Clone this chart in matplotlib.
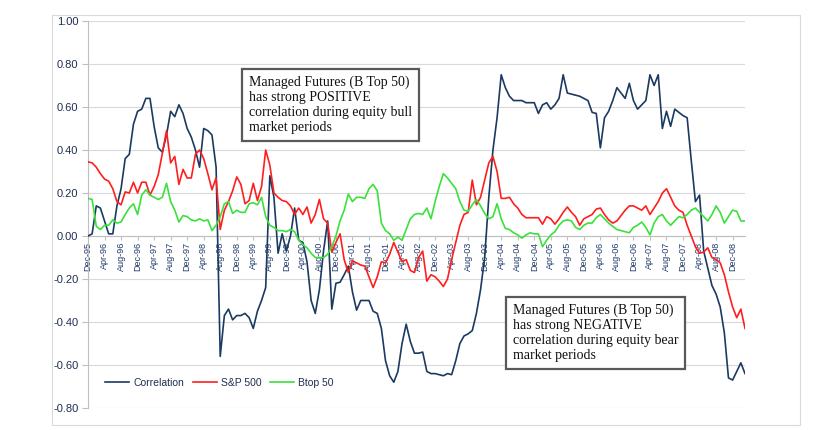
import matplotlib
matplotlib.use("Agg")
import matplotlib.pyplot as plt
from matplotlib.patches import Rectangle

# ---------------- data (monthly, Dec-95 .. Mar-09) ----------------
correlation = [
    0.00, 0.01, 0.14, 0.13, 0.07, 0.01, 0.01, 0.14, 0.22, 0.36,
    0.38, 0.52, 0.58, 0.59, 0.64, 0.64, 0.51, 0.41, 0.39, 0.47,
    0.58, 0.555, 0.61, 0.57, 0.50, 0.46, 0.40, 0.32, 0.50, 0.49,
    0.47, 0.32, -0.56, -0.37, -0.34, -0.39, -0.37, -0.37, -0.36, -0.38,
    -0.43, -0.35, -0.30, -0.24, 0.28, 0.18, -0.08, 0.01, -0.07, 0.00,
    0.13, -0.02, -0.03, -0.12, -0.30, -0.36, -0.25, -0.07, 0.07, -0.34,
    -0.22, -0.215, -0.18, -0.14, -0.26, -0.345, -0.30, -0.30, -0.30, -0.35,
    -0.36, -0.43, -0.58, -0.65, -0.68, -0.63, -0.50, -0.41, -0.49, -0.545,
    -0.545, -0.54, -0.63, -0.64, -0.64, -0.645, -0.65, -0.64, -0.645, -0.58,
    -0.50, -0.465, -0.455, -0.44, -0.36, -0.25, -0.10, 0.18, 0.40, 0.55,
    0.75, 0.69, 0.65, 0.63, 0.63, 0.63, 0.62, 0.62, 0.62, 0.57,
    0.61, 0.62, 0.59, 0.61, 0.64, 0.75, 0.665, 0.66, 0.655, 0.65,
    0.64, 0.63, 0.575, 0.57, 0.41, 0.55, 0.58, 0.63, 0.69, 0.665,
    0.64, 0.71, 0.63, 0.59, 0.61, 0.63, 0.75, 0.70, 0.75, 0.50,
    0.58, 0.51, 0.59, 0.575, 0.56, 0.55, 0.35, 0.16, 0.19, -0.07,
    -0.15, -0.23, -0.27, -0.33, -0.45, -0.66, -0.67, -0.63, -0.59, -0.64,
]

sp500 = [
    0.345, 0.34, 0.32, 0.29, 0.265, 0.255, 0.22, 0.16, 0.145, 0.205,
    0.20, 0.25, 0.20, 0.25, 0.25, 0.19, 0.23, 0.285, 0.385, 0.49,
    0.34, 0.37, 0.24, 0.31, 0.27, 0.27, 0.38, 0.40, 0.36, 0.29,
    0.215, 0.27, 0.03, 0.12, 0.16, 0.21, 0.275, 0.24, 0.15, 0.165,
    0.245, 0.165, 0.23, 0.40, 0.33, 0.20, 0.18, 0.165, 0.16, 0.14,
    0.10, 0.13, 0.10, 0.135, 0.06, 0.10, 0.17, 0.08, 0.06, -0.075,
    -0.03, 0.01, -0.11, -0.17, -0.115, -0.125, -0.135, -0.14, -0.19, -0.24,
    -0.19, -0.12, -0.125, -0.085, -0.03, -0.075, -0.12, -0.11, -0.16, -0.17,
    -0.10, -0.07, -0.21, -0.18, -0.19, -0.21, -0.235, -0.20, -0.11, -0.03,
    0.05, 0.10, 0.11, 0.26, 0.145, 0.18, 0.26, 0.34, 0.37, 0.30,
    0.175, 0.175, 0.18, 0.15, 0.13, 0.10, 0.085, 0.085, 0.085, 0.085,
    0.055, 0.09, 0.08, 0.055, 0.08, 0.11, 0.135, 0.11, 0.09, 0.05,
    0.08, 0.09, 0.10, 0.125, 0.13, 0.10, 0.075, 0.06, 0.07, 0.095,
    0.12, 0.14, 0.14, 0.13, 0.12, 0.14, 0.10, 0.13, 0.16, 0.20,
    0.22, 0.18, 0.14, 0.12, 0.11, 0.05, 0.00, -0.05, -0.08, -0.075,
    -0.055, -0.10, -0.11, -0.125, -0.18, -0.26, -0.33, -0.38, -0.34, -0.43,
]

btop50 = [
    0.175, 0.17, 0.045, 0.03, 0.05, 0.05, 0.075, 0.06, 0.065, 0.10,
    0.13, 0.15, 0.10, 0.19, 0.215, 0.19, 0.18, 0.17, 0.18, 0.245,
    0.16, 0.12, 0.065, 0.095, 0.09, 0.075, 0.07, 0.08, 0.07, 0.075,
    0.025, 0.05, 0.09, 0.15, 0.16, 0.105, 0.12, 0.11, 0.11, 0.15,
    0.155, 0.145, 0.18, 0.09, 0.05, 0.04, 0.025, 0.025, 0.02, 0.03,
    0.02, -0.02, -0.04, -0.055, -0.08, -0.10, -0.10, -0.10, -0.085, -0.05,
    0.00, 0.07, 0.12, 0.195, 0.16, 0.18, 0.18, 0.175, 0.22, 0.24,
    0.21, 0.06, 0.025, 0.01, -0.02, -0.005, -0.02, 0.03, 0.08, 0.10,
    0.105, 0.10, 0.13, 0.08, 0.16, 0.23, 0.29, 0.27, 0.245, 0.22,
    0.16, 0.12, 0.115, 0.145, 0.17, 0.14, 0.105, 0.08, 0.09, 0.15,
    0.08, 0.035, 0.03, 0.015, 0.005, -0.01, 0.005, 0.015, 0.01, 0.01,
    -0.05, -0.02, 0.005, 0.02, 0.05, 0.07, 0.075, 0.07, 0.04, 0.03,
    0.05, 0.06, 0.06, 0.085, 0.10, 0.08, 0.06, 0.045, 0.03, 0.025,
    0.02, 0.015, 0.04, 0.05, 0.065, 0.04, 0.005, 0.06, 0.09, 0.10,
    0.07, 0.05, 0.07, 0.09, 0.085, 0.10, 0.12, 0.13, 0.11, 0.09,
    0.07, 0.10, 0.14, 0.11, 0.06, 0.09, 0.12, 0.115, 0.07, 0.07,
]

tick_labels = [
    "Dec-95", "Apr-96", "Aug-96", "Dec-96", "Apr-97", "Aug-97", "Dec-97",
    "Apr-98", "Aug-98", "Dec-98", "Apr-99", "Aug-99", "Dec-99", "Apr-00",
    "Aug-00", "Dec-00", "Apr-01", "Aug-01", "Dec-01", "Apr-02", "Aug-02",
    "Dec-02", "Apr-03", "Aug-03", "Dec-03", "Apr-04", "Aug-04", "Dec-04",
    "Apr-05", "Aug-05", "Dec-05", "Apr-06", "Aug-06", "Dec-06", "Apr-07",
    "Aug-07", "Dec-07", "Apr-08", "Aug-08", "Dec-08",
]
y_ticks = [-0.8, -0.6, -0.4, -0.2, 0.0, 0.2, 0.4, 0.6, 0.8, 1.0]

note_pos = ("Managed Futures (B Top 50)\nhas strong POSITIVE\n"
            "correlation during equity bull\nmarket periods")
note_neg = ("Managed Futures (B Top 50)\nhas strong NEGATIVE\n"
            "correlation during equity bear\nmarket periods")

# ---------------- figure ----------------
W, H = 816, 430
fig = plt.figure(figsize=(W / 100, H / 100), dpi=100)
fig.patch.set_facecolor("white")

# outer chart-area border
fig.patches.append(Rectangle((52 / W, 1 - 425 / H), (800 - 52) / W, (425 - 15) / H,
                             transform=fig.transFigure, fill=False,
                             ec="#D9D9D9", lw=0.8, zorder=0))

ax = fig.add_axes([88 / W, 1 - 408 / H, (745 - 88) / W, (408 - 21) / H])
ax.set_facecolor("white")

# position the category axis on the zero line first (this resets ticks)
ax.spines["bottom"].set_position(("data", 0))
ax.spines["bottom"].set_color("#BFBFBF")
ax.spines["left"].set_color("#BFBFBF")
ax.spines["top"].set_visible(False)
ax.spines["right"].set_visible(False)

x = list(range(len(correlation)))
c_corr, c_sp, c_bt = "#1B3A62", "#FF1E1E", "#3CE03C"
ax.plot(x, correlation, color=c_corr, lw=1.2, label="Correlation", zorder=3)
ax.plot(x, sp500, color=c_sp, lw=1.2, label="S&P 500", zorder=3)
ax.plot(x, btop50, color=c_bt, lw=1.2, label="Btop 50", zorder=3)

ax.set_xlim(0, len(correlation) - 1)
ax.set_ylim(-0.8, 1.0)
ax.set_yticks(y_ticks)
ax.set_yticklabels([f"{v:.2f}" for v in y_ticks], fontsize=8,
                   family="Liberation Sans", color="#1F2F4F")
ax.yaxis.grid(True, color="#D9D9D9", lw=0.8)
ax.set_axisbelow(True)

ax.set_xticks(list(range(0, len(correlation), 4))[:len(tick_labels)])
ax.set_xticklabels(tick_labels, rotation=90, fontsize=6.5,
                   family="Liberation Sans", color="#1F3A6A")
ax.tick_params(axis="x", length=3, color="#BFBFBF", pad=1)
ax.tick_params(axis="y", length=4, color="#BFBFBF", pad=3)

leg = ax.legend(loc="center", bbox_to_anchor=(0.2, 0.065), ncol=3, frameon=False,
                prop={"family": "Liberation Sans", "size": 7.5},
                handlelength=2.3, columnspacing=0.8, handletextpad=0.4)
for t in leg.get_texts():
    t.set_color("#1F2F4F")

box = dict(boxstyle="square,pad=0.5", fc="white", ec="#595959", lw=1.6)
ax.text((249 - 88) / (745 - 88), (408 - 76) / (408 - 21), note_pos,
        transform=ax.transAxes, ha="left", va="top", fontsize=10,
        family="Liberation Serif", color="#111111", bbox=box,
        linespacing=1.2, zorder=5)
ax.text((513 - 88) / (745 - 88), (408 - 304) / (408 - 21), note_neg,
        transform=ax.transAxes, ha="left", va="top", fontsize=10,
        family="Liberation Serif", color="#111111", bbox=box,
        linespacing=1.2, zorder=5)

fig.savefig("out.png", dpi=100, facecolor="white")
